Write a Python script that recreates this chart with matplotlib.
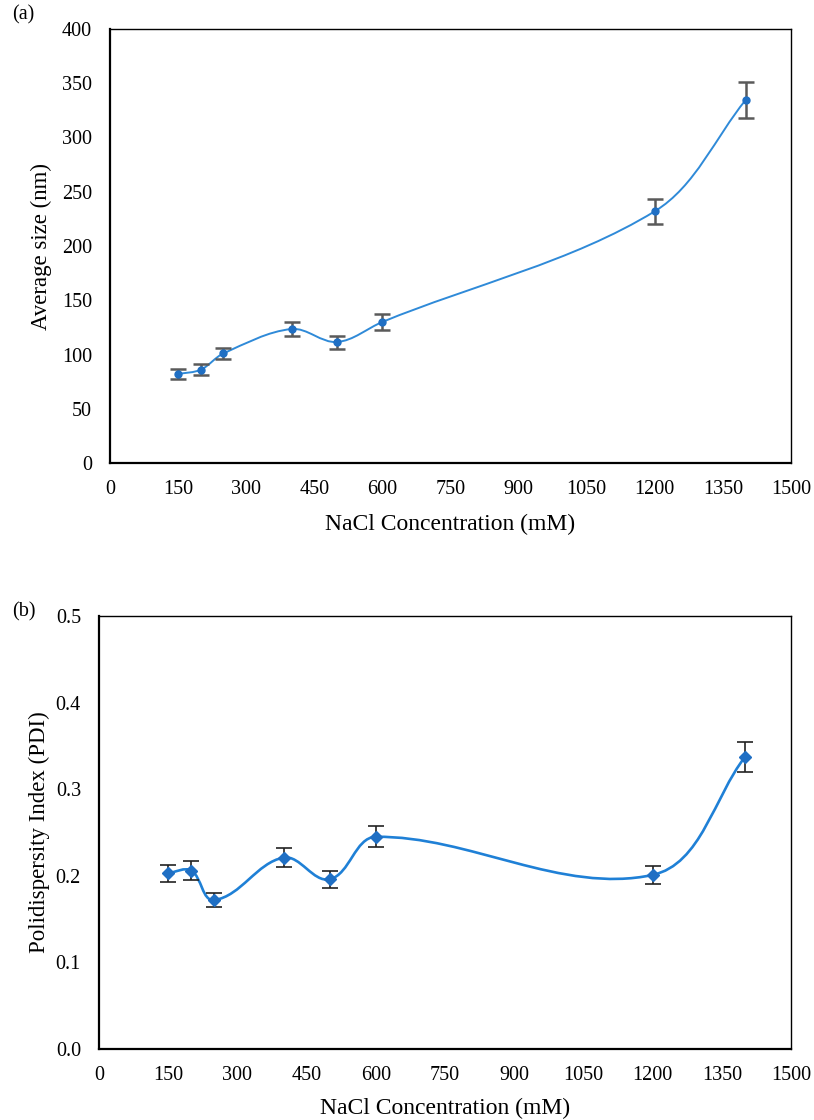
import numpy as np
import matplotlib
matplotlib.use("Agg")
import matplotlib.pyplot as plt
from matplotlib.path import Path
from matplotlib.patches import PathPatch

plt.rcParams['font.family'] = ['Liberation Serif', 'DejaVu Serif']

nacl = [150, 200, 250, 400, 500, 600, 1200, 1400]
size_nm = [82, 86, 101, 123.5, 111.5, 130, 232, 334.5]
size_err = [5, 5, 5, 6, 6, 7, 11.5, 16.5]
pdi = [0.203, 0.206, 0.172, 0.221, 0.196, 0.245, 0.201, 0.337]
pdi_err = [0.010, 0.011, 0.008, 0.011, 0.010, 0.012, 0.010, 0.017]
xticks = [0, 150, 300, 450, 600, 750, 900, 1050, 1200, 1350, 1500]

line_color = '#2f8ad8'
marker_color = '#1f6fc4'

W, H = 814, 1120


def smooth_line(ax, x, y, xr, yr, aspect, color, lw):
    # Excel-like smoothed line: cubic Bezier through the points, tangents along
    # neighbour direction, handle length a third of each segment (screen-like units)
    px = (np.asarray(x, float) - xr[0]) / (xr[1] - xr[0]) * aspect
    py = (np.asarray(y, float) - yr[0]) / (yr[1] - yr[0])
    pts = np.column_stack([px, py])
    n = len(pts)
    tang = []
    for i in range(n):
        a = pts[max(i - 1, 0)]
        b = pts[min(i + 1, n - 1)]
        d = b - a
        tang.append(d / np.hypot(*d))
    verts = [pts[0]]
    codes = [Path.MOVETO]
    for i in range(n - 1):
        p1, p2 = pts[i], pts[i + 1]
        seg = np.hypot(*(p2 - p1)) / 3
        verts += [p1 + tang[i] * seg, p2 - tang[i + 1] * seg, p2]
        codes += [Path.CURVE4] * 3
    verts = np.array(verts)
    verts[:, 0] /= aspect
    patch = PathPatch(Path(verts, codes), facecolor='none', edgecolor=color,
                      lw=lw, transform=ax.transAxes, zorder=2)
    ax.add_patch(patch)


def style_axes(ax):
    for s in ['left', 'bottom']:
        ax.spines[s].set_linewidth(1.6)
    for s in ['top', 'right']:
        ax.spines[s].set_linewidth(1.0)
    ax.tick_params(length=0, labelsize=14.5)
    ax.tick_params(axis='x', pad=12)
    ax.tick_params(axis='y', pad=13)
    ax.set_xlim(0, 1500)
    ax.set_xticks(xticks)


fig = plt.figure(figsize=(W / 100, H / 100), dpi=100)

# (a) average size
l1, r1, t1, b1 = 110, 791, 29, 463
ax1 = fig.add_axes([l1 / W, 1 - b1 / H, (r1 - l1) / W, (b1 - t1) / H])
style_axes(ax1)
ax1.set_ylim(0, 400)
ax1.set_yticks(range(0, 401, 50))
smooth_line(ax1, nacl, size_nm, (0, 1500), (0, 400), (r1 - l1) / (b1 - t1), line_color, 1.4)
ax1.errorbar(nacl, size_nm, yerr=size_err, fmt='o', ms=5, color=marker_color,
             ecolor='#5a5a5a', elinewidth=1.8, capsize=6, capthick=1.8, zorder=3)
ax1.set_ylabel('Average size (nm)', fontsize=16.5, va='center')
ax1.set_xlabel('NaCl Concentration (mM)', fontsize=17, va='center')
ax1.yaxis.set_label_coords((41 - l1) / (r1 - l1), 0.5)
ax1.xaxis.set_label_coords(0.5, (b1 - 524) / (b1 - t1))
fig.text(12 / W, 1 - 15 / H, '(a)', fontsize=14.5, va='center')

# (b) PDI
l2, r2, t2, b2 = 99, 791, 616, 1049
ax2 = fig.add_axes([l2 / W, 1 - b2 / H, (r2 - l2) / W, (b2 - t2) / H])
style_axes(ax2)
ax2.set_ylim(0, 0.5)
ax2.set_yticks([0.0, 0.1, 0.2, 0.3, 0.4, 0.5])
ax2.set_yticklabels(['0.0', '0.1', '0.2', '0.3', '0.4', '0.5'])
smooth_line(ax2, nacl, pdi, (0, 1500), (0, 0.5), (r2 - l2) / (b2 - t2), '#1f80d6', 1.9)
ax2.errorbar(nacl, pdi, yerr=pdi_err, fmt='D', ms=6, color=marker_color,
             ecolor='#222222', elinewidth=1.2, capsize=6, capthick=1.2, zorder=3)
ax2.set_ylabel('Polidispersity Index (PDI)', fontsize=16.5, va='center')
ax2.set_xlabel('NaCl Concentration (mM)', fontsize=17, va='center')
ax2.yaxis.set_label_coords((39 - l2) / (r2 - l2), 0.5)
ax2.xaxis.set_label_coords(0.5, (b2 - 1108) / (b2 - t2))
fig.text(12 / W, 1 - 612 / H, '(b)', fontsize=14.5, va='center')

fig.savefig('out.png', dpi=100)
